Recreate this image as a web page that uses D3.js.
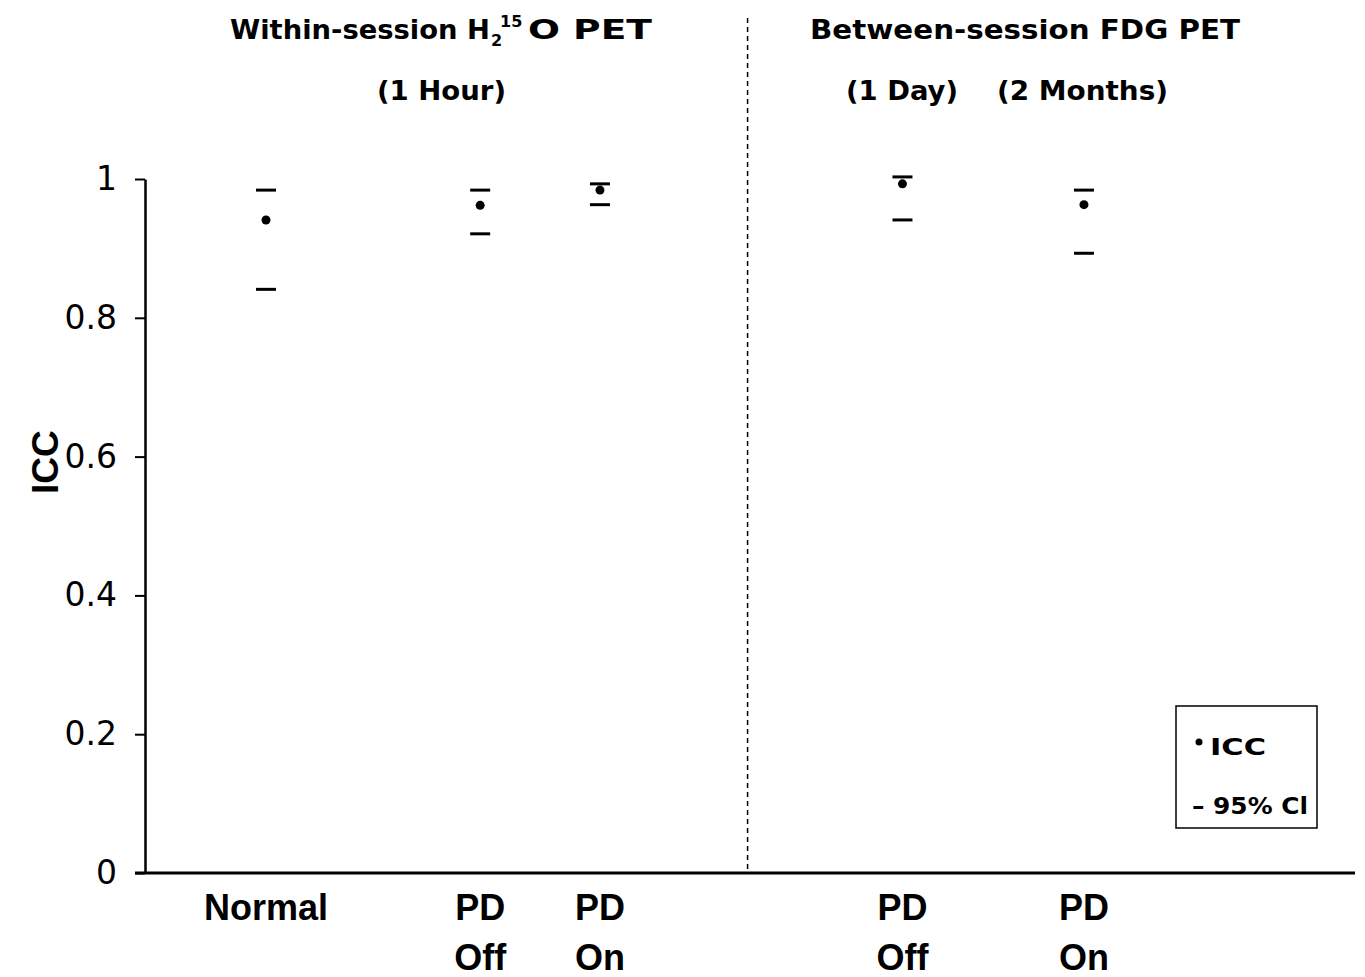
<!DOCTYPE html>
<html>
<head>
<meta charset="utf-8">
<script src="https://cdn.jsdelivr.net/npm/d3@7"></script>
<style>
  body { margin: 0; background: #fff; }
  svg { display: block; font-family: "Liberation Sans", Arial, sans-serif; }
</style>
</head>
<body>
<svg></svg>
<script>
// category labels (two lines) and their slot on the x scale
const catLine1 = ['Normal', 'PD', 'PD', 'PD', 'PD']
const catLine2 = ['', 'Off', 'On', 'Off', 'On']
const catSlot = [1, 2.77, 3.76, 6.26, 7.76]

// ICC and 95% CI bounds
const icc = [0.941, 0.962, 0.984, 0.993, 0.963]
const ciUpper = [0.984, 0.984, 0.993, 1.003, 0.984]
const ciLower = [0.841, 0.921, 0.963, 0.941, 0.893]

const yTicks = [0, 0.2, 0.4, 0.6, 0.8, 1]
const dividerSlot = 4.98

const w = 1365
const h = 977
const boldWide = '"DejaVu Sans", sans-serif'

let svg = d3.select('svg').attr('width', w).attr('height', h)

let xScale = d3.scaleLinear().domain([0, 10]).range([145, 1355])
let yScale = d3.scaleLinear().domain([0, 1]).range([873, 179])

// y axis
let yAxis = d3.axisLeft(yScale)
  .tickValues(yTicks)
  .tickSize(10)
  .tickSizeOuter(0)
  .tickPadding(18)
  .tickFormat(d => d === 0 ? '0' : d === 1 ? '1' : d3.format('.1f')(d))

let yG = svg.append('g')
  .attr('transform', 'translate(' + xScale(0) + ',0)')
  .call(yAxis)
yG.select('.domain').attr('stroke', '#000').attr('stroke-width', 2.5)
yG.selectAll('.tick line').attr('stroke', '#000').attr('stroke-width', 2)
yG.selectAll('.tick text')
  .attr('font-size', 33)
  .attr('font-family', boldWide)
  .attr('fill', '#000')

// x axis baseline
svg.append('line')
  .attr('x1', xScale(0) - 10).attr('x2', xScale(10))
  .attr('y1', yScale(0)).attr('y2', yScale(0))
  .attr('stroke', '#000').attr('stroke-width', 3)

// y title
svg.append('text')
  .attr('transform', 'translate(58,' + yScale(0.592) + ') rotate(-90)')
  .attr('text-anchor', 'middle')
  .attr('font-size', 37)
  .attr('font-weight', 'bold')
  .text('ICC')

// dashed divider
svg.append('line')
  .attr('x1', xScale(dividerSlot)).attr('x2', xScale(dividerSlot))
  .attr('y1', 18).attr('y2', yScale(0))
  .attr('stroke', '#000').attr('stroke-width', 1.5)
  .attr('stroke-dasharray', '5,4')

// category labels
let cats = svg.selectAll('.cat').data(catSlot).enter().append('text')
  .attr('class', 'cat')
  .attr('text-anchor', 'middle')
  .attr('font-size', 36)
  .attr('font-weight', 'bold')
  .attr('x', d => xScale(d))
cats.append('tspan').attr('x', d => xScale(d)).attr('y', 920).text((d, i) => catLine1[i])
cats.append('tspan').attr('x', d => xScale(d)).attr('y', 970).text((d, i) => catLine2[i])

// CI bars
const barHalf = 10
svg.selectAll('.ciU').data(catSlot).enter().append('line')
  .attr('x1', d => xScale(d) - barHalf).attr('x2', d => xScale(d) + barHalf)
  .attr('y1', (d, i) => yScale(ciUpper[i])).attr('y2', (d, i) => yScale(ciUpper[i]))
  .attr('stroke', '#000').attr('stroke-width', 3)
svg.selectAll('.ciL').data(catSlot).enter().append('line')
  .attr('x1', d => xScale(d) - barHalf).attr('x2', d => xScale(d) + barHalf)
  .attr('y1', (d, i) => yScale(ciLower[i])).attr('y2', (d, i) => yScale(ciLower[i]))
  .attr('stroke', '#000').attr('stroke-width', 3)

// ICC points
svg.selectAll('.pt').data(catSlot).enter().append('circle')
  .attr('cx', d => xScale(d))
  .attr('cy', (d, i) => yScale(icc[i]))
  .attr('r', 4.5)
  .attr('fill', '#000')

// titles
let title = (x, y, txt, len, anchor) => svg.append('text')
  .attr('x', x).attr('y', y)
  .attr('text-anchor', anchor || 'start')
  .attr('font-family', boldWide)
  .attr('font-size', 27).attr('font-weight', 'bold')
  .attr('textLength', len).attr('lengthAdjust', 'spacingAndGlyphs')
  .text(txt)

title(230, 39, 'Within-session H', 260)
svg.append('text').attr('x', 491).attr('y', 46)
  .attr('font-family', boldWide).attr('font-size', 16).attr('font-weight', 'bold').text('2')
svg.append('text').attr('x', 500).attr('y', 27)
  .attr('font-family', boldWide).attr('font-size', 16).attr('font-weight', 'bold').text('15')
title(528, 39, 'O PET', 124)
title(377, 100, '(1 Hour)', 129)
title(810, 39, 'Between-session FDG PET', 430)
title(846, 100, '(1 Day)', 112)
title(997, 100, '(2 Months)', 171)

// legend
let lg = svg.append('g').attr('transform', 'translate(1176,706)')
lg.append('rect')
  .attr('width', 141).attr('height', 122)
  .attr('fill', '#fff').attr('stroke', '#000').attr('stroke-width', 1.5)
lg.append('circle').attr('cx', 23).attr('cy', 36).attr('r', 3.5).attr('fill', '#000')
lg.append('text').attr('x', 34).attr('y', 49)
  .attr('font-family', boldWide)
  .attr('font-size', 23).attr('font-weight', 'bold')
  .attr('textLength', 56).attr('lengthAdjust', 'spacingAndGlyphs')
  .text('ICC')
lg.append('text').attr('x', 16).attr('y', 108)
  .attr('font-family', boldWide)
  .attr('font-size', 23).attr('font-weight', 'bold')
  .attr('textLength', 116).attr('lengthAdjust', 'spacingAndGlyphs')
  .text('– 95% Cl')
</script>
</body>
</html>
